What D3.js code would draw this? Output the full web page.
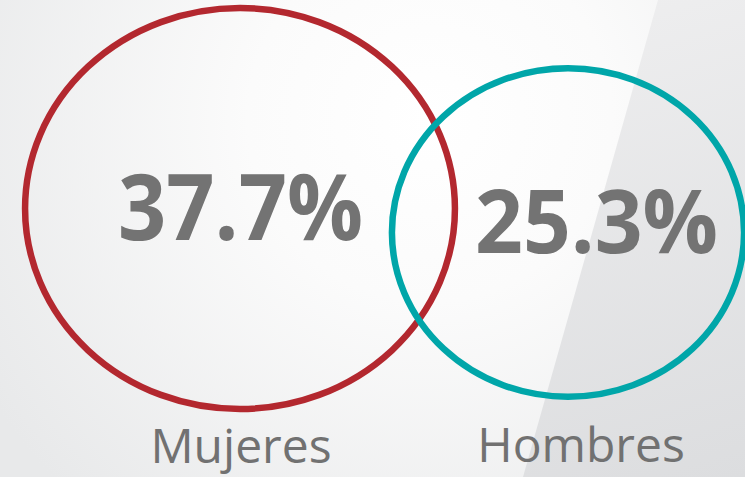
<!DOCTYPE html>
<html>
<head>
<meta charset="utf-8">
<script src="https://cdn.jsdelivr.net/npm/d3@7"></script>
<style>
  html, body { margin: 0; padding: 0; background: #f2f2f2; }
  svg { display: block; }
</style>
</head>
<body>
<svg id="chart" width="745" height="477"></svg>
<script>
// ---- data ----
const categories = ["Mujeres", "Hombres"];
const values = [37.7, 25.3];
const valueLabels = ["37.7%", "25.3%"];
const colors = ["#b3282f", "#00a6a9"];

// ---- layout ----
const W = 745, H = 477;
const svg = d3.select("#chart");
const defs = svg.append("defs");

const rg = defs.append("radialGradient").attr("id", "bgR")
  .attr("gradientUnits", "userSpaceOnUse")
  .attr("cx", 430).attr("cy", 120).attr("r", 520);
rg.append("stop").attr("offset", "0").attr("stop-color", "#ffffff");
rg.append("stop").attr("offset", "0.35").attr("stop-color", "#fbfbfb");
rg.append("stop").attr("offset", "1").attr("stop-color", "#e8e9ea");

const lg = defs.append("linearGradient").attr("id", "bgL")
  .attr("gradientUnits", "userSpaceOnUse")
  .attr("x1", 600).attr("y1", 0).attr("x2", 745).attr("y2", 477);
lg.append("stop").attr("offset", "0").attr("stop-color", "#eeeeef");
lg.append("stop").attr("offset", "1").attr("stop-color", "#dcdddf");

svg.append("rect").attr("width", W).attr("height", H).attr("fill", "url(#bgR)");
svg.append("path")
  .attr("d", "M658,0 L745,0 L745,477 L523,477 Z")
  .attr("fill", "url(#bgL)");

const x = d3.scalePoint().domain(categories).range([240, 568]);
const cy = d3.scaleOrdinal().domain(categories).range([208.5, 232.5]);
const r = d3.scaleSqrt().domain([0, 37.7]).range([0, 200.5]);
const stretch = 1.072;

const g = svg.append("g");
g.selectAll("ellipse").data(categories).join("ellipse")
  .attr("cx", d => x(d))
  .attr("cy", d => cy(d))
  .attr("rx", (d, i) => r(values[i]) * stretch)
  .attr("ry", (d, i) => r(values[i]))
  .attr("fill", "none")
  .attr("stroke", (d, i) => colors[i])
  .attr("stroke-width", 6.5);

const numPos = [{dx: 0.5, y: 240, fs: 91, len: 245}, {dx: 28.5, y: 253, fs: 87, len: 243}];
g.selectAll("text.num").data(categories).join("text")
  .attr("class", "num")
  .attr("x", (d, i) => x(d) + numPos[i].dx)
  .attr("y", (d, i) => numPos[i].y)
  .attr("text-anchor", "middle")
  .attr("font-family", "'Open Sans', sans-serif")
  .attr("font-weight", 700)
  .attr("font-size", (d, i) => numPos[i].fs)
  .attr("textLength", (d, i) => numPos[i].len)
  .attr("lengthAdjust", "spacingAndGlyphs")
  .attr("fill", "#737373")
  .text((d, i) => valueLabels[i]);

const labPos = [{dx: 1, y: 463}, {dx: 13, y: 462}];
g.selectAll("text.lab").data(categories).join("text")
  .attr("class", "lab")
  .attr("x", (d, i) => x(d) + labPos[i].dx)
  .attr("y", (d, i) => labPos[i].y)
  .attr("text-anchor", "middle")
  .attr("font-family", "'Open Sans', sans-serif")
  .attr("font-weight", 400)
  .attr("font-size", 48)
  .attr("fill", "#717171")
  .text(d => d);
</script>
</body>
</html>
